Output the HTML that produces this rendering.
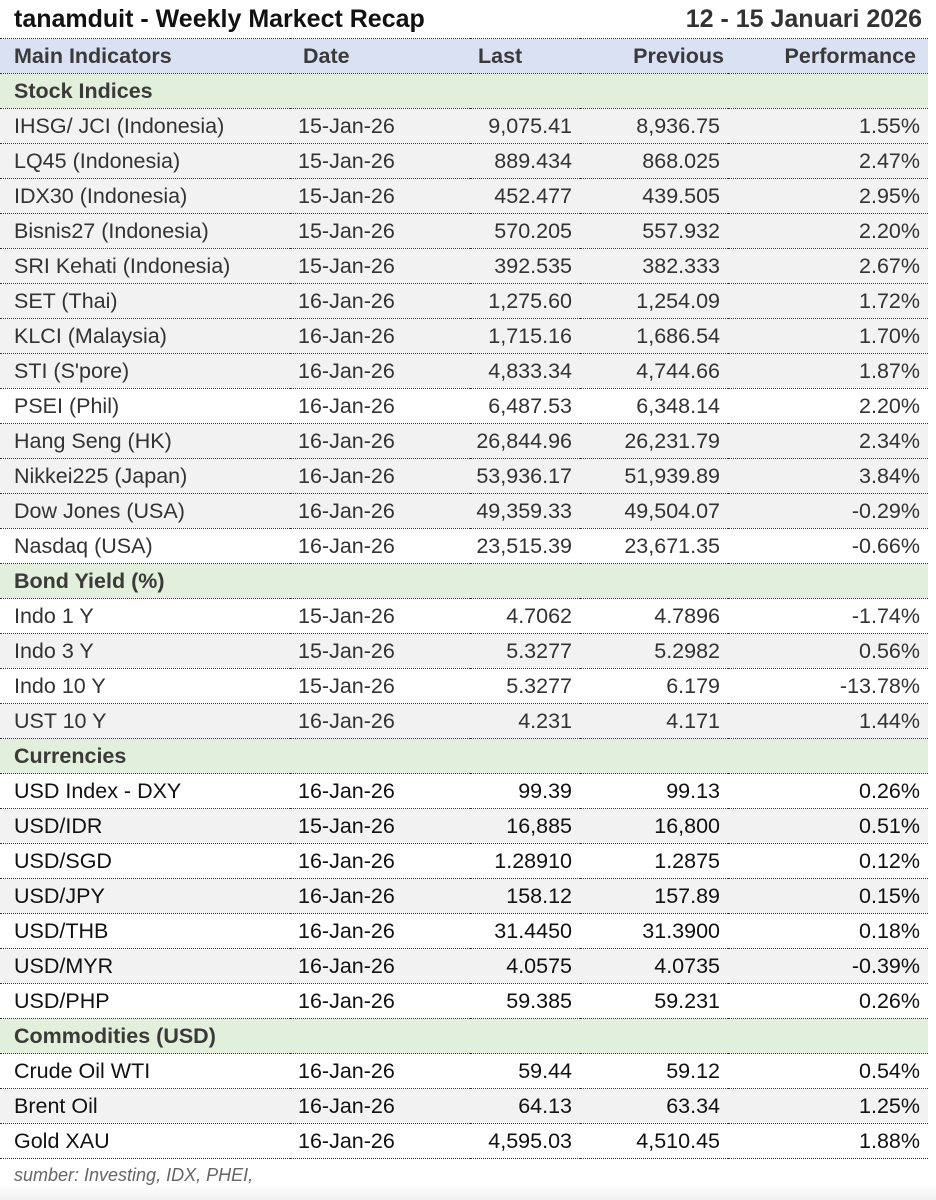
<!DOCTYPE html>
<html><head><meta charset="utf-8"><style>
body{margin:0;width:936px;height:1200px;background:#fff;font-family:"Liberation Sans",sans-serif;color:#333;position:relative;overflow:hidden}
.t{position:absolute;top:5px;font-weight:bold;font-size:25px;color:#111}
table{position:absolute;left:0;top:38px;width:928px;border-collapse:collapse;table-layout:fixed;font-size:21.5px}
td{height:34px;padding:0;border-bottom:1px dotted #333;white-space:nowrap;overflow:hidden}
tr.h td{background:#d9e1f2;font-weight:bold;color:#3a3a3a;border-top:1px dotted #333}
tr.s td{background:#e2efda;font-weight:bold;color:#3a3a3a}
tr.g td{background:#f2f2f2}
td.n{padding-left:14px}
td.d{padding-left:8px}
td.r{text-align:right;padding-right:8px}
.k td{color:#111}
.foot{position:absolute;left:14px;top:1165px;font-style:italic;font-size:18px;color:#666}
.band{position:absolute;left:0;top:1185px;width:936px;height:15px;background:linear-gradient(#fff,#f0f0f0)}
</style></head><body>
<div class="t" style="left:14px">tanamduit - Weekly Markect Recap</div>
<div class="t" style="right:14px;color:#333">12 - 15 Januari 2026</div>
<table>
<colgroup><col style="width:290px"><col style="width:180px"><col style="width:110px"><col style="width:148px"><col style="width:200px"></colgroup>
<tr class="h"><td class="n">Main Indicators</td><td style="padding-left:13px">Date</td><td style="padding-left:8px">Last</td><td style="text-align:right;padding-right:4px">Previous</td><td style="text-align:right;padding-right:12px">Performance</td></tr>
<tr class="s"><td class="n">Stock Indices</td><td></td><td></td><td></td><td></td></tr>
<tr class="g"><td class="n">IHSG/ JCI (Indonesia)</td><td class="d">15-Jan-26</td><td class="r">9,075.41</td><td class="r">8,936.75</td><td class="r">1.55%</td></tr>
<tr class="g"><td class="n">LQ45 (Indonesia)</td><td class="d">15-Jan-26</td><td class="r">889.434</td><td class="r">868.025</td><td class="r">2.47%</td></tr>
<tr class="g"><td class="n">IDX30 (Indonesia)</td><td class="d">15-Jan-26</td><td class="r">452.477</td><td class="r">439.505</td><td class="r">2.95%</td></tr>
<tr class="g"><td class="n">Bisnis27 (Indonesia)</td><td class="d">15-Jan-26</td><td class="r">570.205</td><td class="r">557.932</td><td class="r">2.20%</td></tr>
<tr class="g"><td class="n">SRI Kehati (Indonesia)</td><td class="d">15-Jan-26</td><td class="r">392.535</td><td class="r">382.333</td><td class="r">2.67%</td></tr>
<tr class="g"><td class="n">SET (Thai)</td><td class="d">16-Jan-26</td><td class="r">1,275.60</td><td class="r">1,254.09</td><td class="r">1.72%</td></tr>
<tr class="g"><td class="n">KLCI (Malaysia)</td><td class="d">16-Jan-26</td><td class="r">1,715.16</td><td class="r">1,686.54</td><td class="r">1.70%</td></tr>
<tr class="g"><td class="n">STI (S'pore)</td><td class="d">16-Jan-26</td><td class="r">4,833.34</td><td class="r">4,744.66</td><td class="r">1.87%</td></tr>
<tr><td class="n">PSEI (Phil)</td><td class="d">16-Jan-26</td><td class="r">6,487.53</td><td class="r">6,348.14</td><td class="r">2.20%</td></tr>
<tr class="g"><td class="n">Hang Seng (HK)</td><td class="d">16-Jan-26</td><td class="r">26,844.96</td><td class="r">26,231.79</td><td class="r">2.34%</td></tr>
<tr class="g"><td class="n">Nikkei225 (Japan)</td><td class="d">16-Jan-26</td><td class="r">53,936.17</td><td class="r">51,939.89</td><td class="r">3.84%</td></tr>
<tr class="g"><td class="n">Dow Jones (USA)</td><td class="d">16-Jan-26</td><td class="r">49,359.33</td><td class="r">49,504.07</td><td class="r">-0.29%</td></tr>
<tr><td class="n">Nasdaq (USA)</td><td class="d">16-Jan-26</td><td class="r">23,515.39</td><td class="r">23,671.35</td><td class="r">-0.66%</td></tr>
<tr class="s"><td class="n">Bond Yield (%)</td><td></td><td></td><td></td><td></td></tr>
<tr><td class="n">Indo 1 Y</td><td class="d">15-Jan-26</td><td class="r">4.7062</td><td class="r">4.7896</td><td class="r">-1.74%</td></tr>
<tr class="g"><td class="n">Indo 3 Y</td><td class="d">15-Jan-26</td><td class="r">5.3277</td><td class="r">5.2982</td><td class="r">0.56%</td></tr>
<tr><td class="n">Indo 10 Y</td><td class="d">15-Jan-26</td><td class="r">5.3277</td><td class="r">6.179</td><td class="r">-13.78%</td></tr>
<tr class="g"><td class="n">UST 10 Y</td><td class="d">16-Jan-26</td><td class="r">4.231</td><td class="r">4.171</td><td class="r">1.44%</td></tr>
<tr class="s"><td class="n">Currencies</td><td></td><td></td><td></td><td></td></tr>
<tr class="k"><td class="n">USD Index - DXY</td><td class="d">16-Jan-26</td><td class="r">99.39</td><td class="r">99.13</td><td class="r">0.26%</td></tr>
<tr class="g k"><td class="n">USD/IDR</td><td class="d">15-Jan-26</td><td class="r">16,885</td><td class="r">16,800</td><td class="r">0.51%</td></tr>
<tr class="k"><td class="n">USD/SGD</td><td class="d">16-Jan-26</td><td class="r">1.28910</td><td class="r">1.2875</td><td class="r">0.12%</td></tr>
<tr class="g k"><td class="n">USD/JPY</td><td class="d">16-Jan-26</td><td class="r">158.12</td><td class="r">157.89</td><td class="r">0.15%</td></tr>
<tr class="k"><td class="n">USD/THB</td><td class="d">16-Jan-26</td><td class="r">31.4450</td><td class="r">31.3900</td><td class="r">0.18%</td></tr>
<tr class="g k"><td class="n">USD/MYR</td><td class="d">16-Jan-26</td><td class="r">4.0575</td><td class="r">4.0735</td><td class="r">-0.39%</td></tr>
<tr class="k"><td class="n">USD/PHP</td><td class="d">16-Jan-26</td><td class="r">59.385</td><td class="r">59.231</td><td class="r">0.26%</td></tr>
<tr class="s"><td class="n">Commodities (USD)</td><td></td><td></td><td></td><td></td></tr>
<tr class="k"><td class="n">Crude Oil WTI</td><td class="d">16-Jan-26</td><td class="r">59.44</td><td class="r">59.12</td><td class="r">0.54%</td></tr>
<tr class="g k"><td class="n">Brent Oil</td><td class="d">16-Jan-26</td><td class="r">64.13</td><td class="r">63.34</td><td class="r">1.25%</td></tr>
<tr class="k"><td class="n">Gold XAU</td><td class="d">16-Jan-26</td><td class="r">4,595.03</td><td class="r">4,510.45</td><td class="r">1.88%</td></tr>
</table>
<div class="foot">sumber: Investing, IDX, PHEI,</div>
<div class="band"></div>
</body></html>
